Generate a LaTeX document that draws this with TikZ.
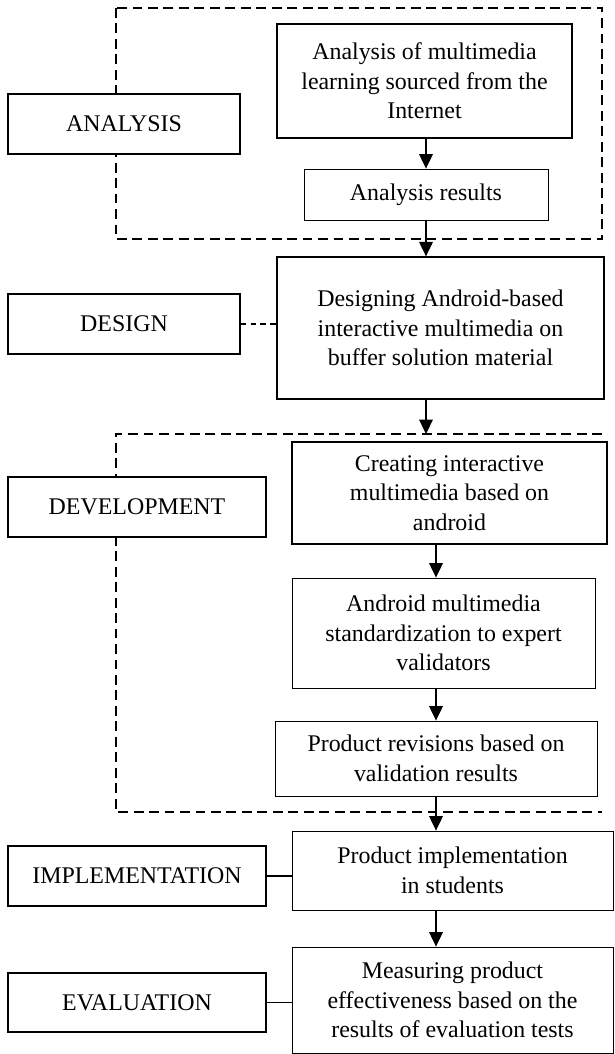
\documentclass[tikz,border=0pt]{standalone}
\usepackage{fontspec}
\setmainfont{Liberation Serif}
\usetikzlibrary{arrows.meta}
\begin{document}
\begin{tikzpicture}[x=0.025cm, y=-0.025cm,
            stagebox/.style={draw, line width=0.9pt, fill=white, minimum height=1.5cm, inner sep=0pt, font=\fontsize{17}{21}\selectfont},
            thickbox/.style={draw, line width=0.9pt, fill=white, align=center, inner sep=0pt, font=\fontsize{17}{21}\selectfont},
            thinbox/.style={draw, line width=0.6pt, fill=white, align=center, inner sep=0pt, font=\fontsize{17}{21}\selectfont},
            arr/.style={line width=1pt, -{Triangle[width=0.34cm, length=0.36cm]}},
            dashframe/.style={line width=0.9pt, dash pattern=on 7pt off 4pt}]
            \useasboundingbox (0,0) rectangle (614,1054);
            
            \draw[dashframe] (116,8) rectangle (602,239);
            \draw[dashframe] (602,434) -- (116,434) -- (116,812) -- (602,812);
            \coordinate (f2) at (116,434);
            
            \node[stagebox, minimum width=5.8cm] (ana) at (124,124) {ANALYSIS};
            \node[stagebox, minimum width=5.8cm] (des) at (124,324) {DESIGN};
            \node[stagebox, minimum width=6.45cm] (dev) at (137,507) {DEVELOPMENT};
            \node[stagebox, minimum width=6.45cm] (imp) at (137,876) {IMPLEMENTATION};
            \node[stagebox, minimum width=6.45cm, minimum height=1.475cm] (eva) at (137,1002.5) {EVALUATION};
            
            \node[thickbox, minimum width=7.375cm, minimum height=2.85cm] (a1) at (424.5,81) {Analysis of multimedia\\learning sourced from the\\Internet};
            \node[thinbox, minimum width=6.1cm, minimum height=1.275cm] (a2) at (426,194.5) {Analysis results};
            \node[thickbox, minimum width=8.175cm, minimum height=3.55cm] (d1) at (440.5,328) {Designing Android-based\\interactive multimedia on\\buffer solution material};
            \node[thickbox, minimum width=7.875cm, minimum height=2.55cm] (c1) at (449.5,493) {Creating interactive\\multimedia based on\\android};
            \node[thinbox, minimum width=7.575cm, minimum height=2.75cm] (c2) at (443.5,633) {Android multimedia\\standardization to expert\\validators};
            \node[thinbox, minimum width=8.05cm, minimum height=1.875cm] (c3) at (436,758.5) {Product revisions based on\\validation results};
            \node[thinbox, minimum width=8.025cm, minimum height=1.975cm] (p1) at (452.5,870.5) {Product implementation\\in students};
            \node[thinbox, minimum width=8.025cm, minimum height=2.65cm] (p2) at (452.5,1000) {Measuring product\\effectiveness based on the\\results of evaluation tests};
            
            \draw[line width=0.8pt, dash pattern=on 4pt off 3pt] (des.east) -- (des.east -| d1.west);
            \draw[line width=0.8pt] (imp.east) -- (imp.east -| p1.west);
            \draw[line width=0.8pt] (eva.east) -- (eva.east -| p2.west);
            
            \draw[arr] (a2 |- a1.south) -- (a2.north);
            \draw[arr] (a2.south) -- (a2 |- d1.north);
            \draw[arr] (a2 |- d1.south) -- (a2 |- f2);
            \draw[arr] (c3 |- c1.south) -- (c3 |- c2.north);
            \draw[arr] (c3 |- c2.south) -- (c3.north);
            \draw[arr] (c3.south) -- (c3 |- p1.north);
            \draw[arr] (c3 |- p1.south) -- (c3 |- p2.north);
        \end{tikzpicture}
\end{document}
